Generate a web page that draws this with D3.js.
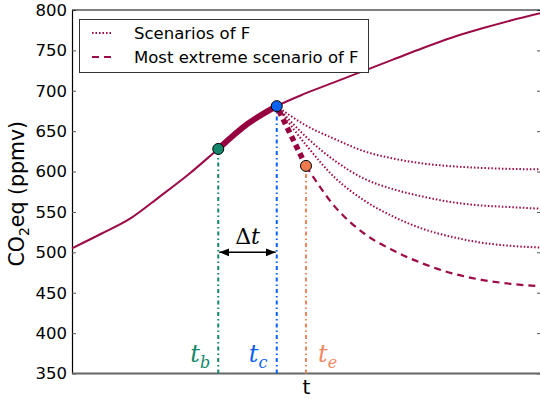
<!DOCTYPE html>
<html>
<head>
<meta charset="utf-8">
<script src="https://cdn.jsdelivr.net/npm/d3@7"></script>
<style>
  html, body { margin: 0; padding: 0; background: #fff; }
  svg { display: block; }
</style>
</head>
<body>
<svg id="chart" width="540" height="399"></svg>
<script>
// Time steps (arbitrary units) and CO2-equivalent concentrations (ppmv)
const times = [0, 1, 2, 3, 4, 5, 6, 7, 8, 9, 10, 11, 12, 13, 14, 15, 16];
const co2Path = [505, 523, 542, 569, 597, 628, 659, 681, 697, 711, 725, 739, 753, 766, 777, 787, 796];

// Scenario branches leaving the path at t_c
const scenarioTimes = [7, 8, 9, 10, 11, 12, 13, 14, 15, 16];
const scenarioHigh = [681, 657, 640, 625, 616, 610, 606.5, 604.5, 603.3, 602.7];
const scenarioMid = [681, 643, 613, 591, 578, 569, 562, 558, 556, 554];
const scenarioLow = [681, 633, 592, 564, 544, 529, 519, 512, 508, 506];
const scenarioExtreme = [681, 607, 556, 523, 502, 486, 474, 466, 461, 458];

// Key instants
const tB = 5, tC = 7, tE = 8;
const yTicks = [350, 400, 450, 500, 550, 600, 650, 700, 750, 800];
const legendLabels = ["Scenarios of F", "Most extreme scenario of F"];

const svg = d3.select("#chart");
const plotL = 72, plotR = 541, plotT = 10, plotB = 373.5;
const x = d3.scaleLinear().domain([0, 16]).range([plotL, plotR - 1]);
const y = d3.scaleLinear().domain([350, 800]).range([plotB, plotT]);

const lineColor = "#9c0a47";
const thickColor = "#96003f";
const cGreen = "#14876b", cBlue = "#0b5ff2", cOrange = "#f07a4f";

const valAt = (ts, vs, t) => vs[ts.indexOf(t)];

// Axes
const yAxis = d3.axisLeft(y).tickValues(yTicks).tickSizeInner(-4).tickSizeOuter(0).tickPadding(5);
const gy = svg.append("g").attr("transform", `translate(${plotL},0)`).call(yAxis);
gy.select(".domain").attr("stroke", "#000").attr("stroke-width", 1.2);
gy.selectAll(".tick line").attr("stroke", "#555").attr("stroke-width", 1);
gy.selectAll(".tick text").attr("font-family", "DejaVu Sans").attr("font-size", 16.5).attr("fill", "#000");

const yAxisR = d3.axisRight(y).tickValues(yTicks).tickSizeInner(-4).tickSizeOuter(0).tickFormat("");
const gyr = svg.append("g").attr("transform", `translate(${plotR},0)`).call(yAxisR);
gyr.select(".domain").attr("stroke", "#000");
gyr.selectAll(".tick line").attr("stroke", "#555");

// top and bottom spines
svg.append("line").attr("x1", plotL).attr("x2", plotR).attr("y1", plotT).attr("y2", plotT)
  .attr("stroke", "#000").attr("stroke-width", 1.2);
svg.append("line").attr("x1", plotL).attr("x2", plotR).attr("y1", plotB).attr("y2", plotB)
  .attr("stroke", "#666").attr("stroke-width", 2.2);

// x label
svg.append("text").attr("x", (plotL + plotR) / 2).attr("y", 394).attr("text-anchor", "middle")
  .attr("font-family", "DejaVu Sans").attr("font-size", 20).text("t");

// y label
const ylab = svg.append("text").attr("transform", `translate(24,${(plotT + plotB) / 2 + 2}) rotate(-90)`)
  .attr("text-anchor", "middle").attr("font-family", "DejaVu Sans").attr("font-size", 20.5);
ylab.append("tspan").text("CO");
ylab.append("tspan").attr("font-size", 14).attr("dy", 5).text("2");
ylab.append("tspan").attr("dy", -5).text("eq (ppmv)");

const line = d3.line().x(d => x(d[0])).y(d => y(d[1])).curve(d3.curveMonotoneX);
const pairs = (ts, vs) => ts.map((t, i) => [t, vs[i]]);

// vertical markers of t_b, t_c, t_e
const verticals = [
  { t: tB, v: valAt(times, co2Path, tB), color: cGreen },
  { t: tC, v: valAt(times, co2Path, tC), color: cBlue },
  { t: tE, v: valAt(scenarioTimes, scenarioExtreme, tE), color: "#f2875f" }
];
svg.append("g").selectAll("line").data(verticals).join("line")
  .attr("x1", d => x(d.t)).attr("x2", d => x(d.t))
  .attr("y1", plotB).attr("y2", d => y(d.v))
  .attr("stroke", d => d.color).attr("stroke-width", 2)
  .attr("stroke-dasharray", "4,3,1.5,3");

// scenario branches
const plotArea = svg.append("g");
[scenarioHigh, scenarioMid, scenarioLow].forEach(s => {
  plotArea.append("path").datum(pairs(scenarioTimes, s)).attr("d", line)
    .attr("fill", "none").attr("stroke", lineColor).attr("stroke-width", 2)
    .attr("stroke-dasharray", "1.5,2");
});
const extIdx = scenarioTimes.indexOf(tE);
plotArea.append("path").datum(pairs(scenarioTimes.slice(extIdx), scenarioExtreme.slice(extIdx)))
  .attr("d", line).attr("fill", "none").attr("stroke", lineColor).attr("stroke-width", 2.2)
  .attr("stroke-dasharray", "7,5");
plotArea.append("path").datum(pairs(scenarioTimes.slice(0, extIdx + 1), scenarioExtreme.slice(0, extIdx + 1)))
  .attr("d", line).attr("fill", "none").attr("stroke", thickColor).attr("stroke-width", 5.5)
  .attr("stroke-dasharray", "5.5,4").attr("stroke-dashoffset", -5);

// main path
plotArea.append("path").datum(pairs(times, co2Path)).attr("d", line)
  .attr("fill", "none").attr("stroke", lineColor).attr("stroke-width", 2);
const i0 = times.indexOf(tB), i1 = times.indexOf(tC);
plotArea.append("path").datum(pairs(times, co2Path).slice(i0, i1 + 1)).attr("d", line)
  .attr("fill", "none").attr("stroke", thickColor).attr("stroke-width", 6);

// markers
const markers = [
  { t: tB, v: valAt(times, co2Path, tB), color: cGreen },
  { t: tC, v: valAt(times, co2Path, tC), color: cBlue },
  { t: tE, v: valAt(scenarioTimes, scenarioExtreme, tE), color: cOrange }
];
svg.append("g").selectAll("circle").data(markers).join("circle")
  .attr("cx", d => x(d.t)).attr("cy", d => y(d.v)).attr("r", 5.5)
  .attr("fill", d => d.color).attr("stroke", "#000").attr("stroke-width", 1);

// Δt arrow
const arrowY = y(500);
const defs = svg.append("defs");
defs.append("marker").attr("id", "ah").attr("viewBox", "0 0 10 10").attr("refX", 10).attr("refY", 5)
  .attr("markerWidth", 10).attr("markerHeight", 10).attr("markerUnits", "userSpaceOnUse")
  .attr("orient", "auto-start-reverse")
  .append("path").attr("d", "M0,1 L10,5 L0,9 Z").attr("fill", "#000");
svg.append("line").attr("x1", x(tB) + 1).attr("x2", x(tC) - 1).attr("y1", arrowY).attr("y2", arrowY)
  .attr("stroke", "#000").attr("stroke-width", 1.5)
  .attr("marker-start", "url(#ah)").attr("marker-end", "url(#ah)");
const dt = svg.append("text").attr("x", (x(tB) + x(tC)) / 2).attr("y", arrowY - 8)
  .attr("text-anchor", "middle").attr("font-family", "DejaVu Serif").attr("font-size", 22);
dt.append("tspan").text("Δ");
dt.append("tspan").attr("font-style", "italic").text("t");

// t_b, t_c, t_e labels
const tLabels = [
  { t: tB, sub: "b", color: cGreen, dx: -28 },
  { t: tC, sub: "c", color: cBlue, dx: -28 },
  { t: tE, sub: "e", color: "#f2875f", dx: 12 }
];
tLabels.forEach(d => {
  const tx = svg.append("text").attr("x", x(d.t) + d.dx).attr("y", y(364))
    .attr("font-family", "DejaVu Serif").attr("font-style", "italic").attr("font-size", 24)
    .attr("fill", d.color);
  tx.append("tspan").text("t");
  tx.append("tspan").attr("font-size", 16).attr("dy", 6).text(d.sub);
});

// legend
const lg = svg.append("g");
lg.append("rect").attr("x", 79.5).attr("y", 19.5).attr("width", 289).attr("height", 53)
  .attr("fill", "#fff").attr("stroke", "#333").attr("stroke-width", 1);
const legendStyles = [
  { dash: "1.5,2", w: 2 },
  { dash: "7,5", w: 2.2 }
];
legendLabels.forEach((lab, i) => {
  const yy = 33 + i * 24;
  lg.append("line").attr("x1", 92).attr("x2", 111).attr("y1", yy).attr("y2", yy)
    .attr("stroke", lineColor).attr("stroke-width", legendStyles[i].w)
    .attr("stroke-dasharray", legendStyles[i].dash);
  lg.append("text").attr("x", 134).attr("y", yy + 6).attr("font-family", "DejaVu Sans")
    .attr("font-size", 16.5).text(lab);
});
</script>
</body>
</html>
